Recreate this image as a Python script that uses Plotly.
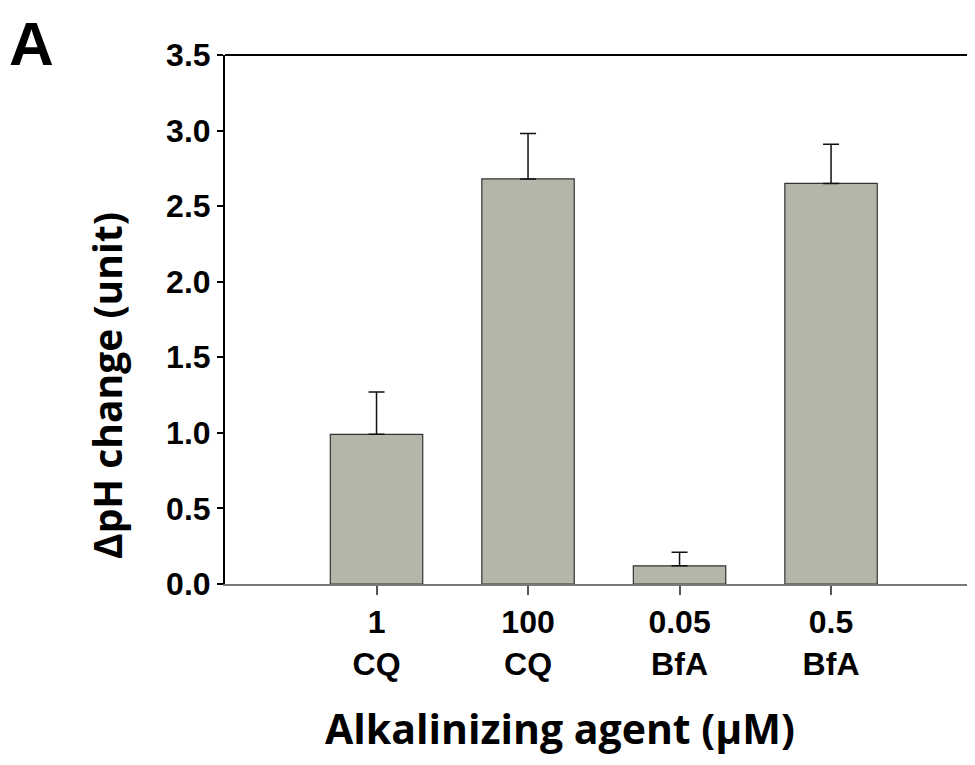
import plotly.graph_objects as go

concentrations = ["1", "100", "0.05", "0.5"]
agents = ["CQ", "CQ", "BfA", "BfA"]
delta_ph = [0.99, 2.68, 0.12, 2.65]
sem = [0.28, 0.30, 0.09, 0.26]

x_pos = list(range(len(delta_ph)))
tick_text = [f"{c}<br>{a}" for c, a in zip(concentrations, agents)]

W, H = 967, 757
L, T, B, R = 217, 47, 181, 0
PW, PH = W - L - R, H - T - B

fig = go.Figure()
fig.add_trace(go.Bar(
    x=x_pos, y=delta_ph, width=0.61,
    marker=dict(color="#b5b5a9", line=dict(color="#333333", width=1.2)),
    error_y=dict(type="data", array=sem, arrayminus=[0]*len(sem), symmetric=False,
                 color="#111111", thickness=1.5, width=8),
))

tick_font = dict(family="Liberation Sans, Arial, sans-serif", size=32, color="black", weight="bold")

fig.update_layout(
    width=W, height=H,
    margin=dict(l=L, r=R, t=T, b=B, autoexpand=False),
    plot_bgcolor="white", paper_bgcolor="white",
    showlegend=False,
    font=dict(family="Liberation Sans, Arial, sans-serif"),
    xaxis=dict(
        range=[-1, 3.95], tickvals=x_pos, ticktext=tick_text,
        showline=True, linecolor="#777777", linewidth=1.5,
        ticks="outside", ticklen=9, tickcolor="#555555", tickwidth=1.5,
        showgrid=False, zeroline=False,
        tickfont=tick_font,
    ),
    yaxis=dict(
        range=[0, 3.5], dtick=0.5, tickformat=".1f",
        showline=True, linecolor="black", linewidth=2,
        ticks="outside", ticklen=6, tickcolor="black", tickwidth=1.5,
        showgrid=False, zeroline=False,
        tickfont=tick_font,
    ),
    shapes=[dict(type="line", xref="paper", yref="paper", x0=0, x1=1, y0=1, y1=1,
                 line=dict(color="black", width=2))],
    annotations=[
        dict(text="A", xref="paper", yref="paper", x=-L/PW, y=1 + T/PH, xanchor="left", yanchor="top",
             borderpad=0,
             showarrow=False, font=dict(family="Liberation Sans, Arial, sans-serif", size=62, color="black", weight="bold")),
        dict(text="Alkalinizing agent (μM)", xref="paper", yref="paper", x=335/PW, y=-144/PH,
             xanchor="center", yanchor="middle", showarrow=False,
             font=dict(family="Open Sans, sans-serif", size=41, color="black", weight="bold")),
        dict(text="ΔpH change (unit)", xref="paper", yref="paper", x=-119/PW, y=199/PH,
             xanchor="center", yanchor="middle", textangle=-90, showarrow=False,
             font=dict(family="Open Sans, sans-serif", size=39, color="black", weight="bold")),
    ],
)

fig.write_html("out.html")
